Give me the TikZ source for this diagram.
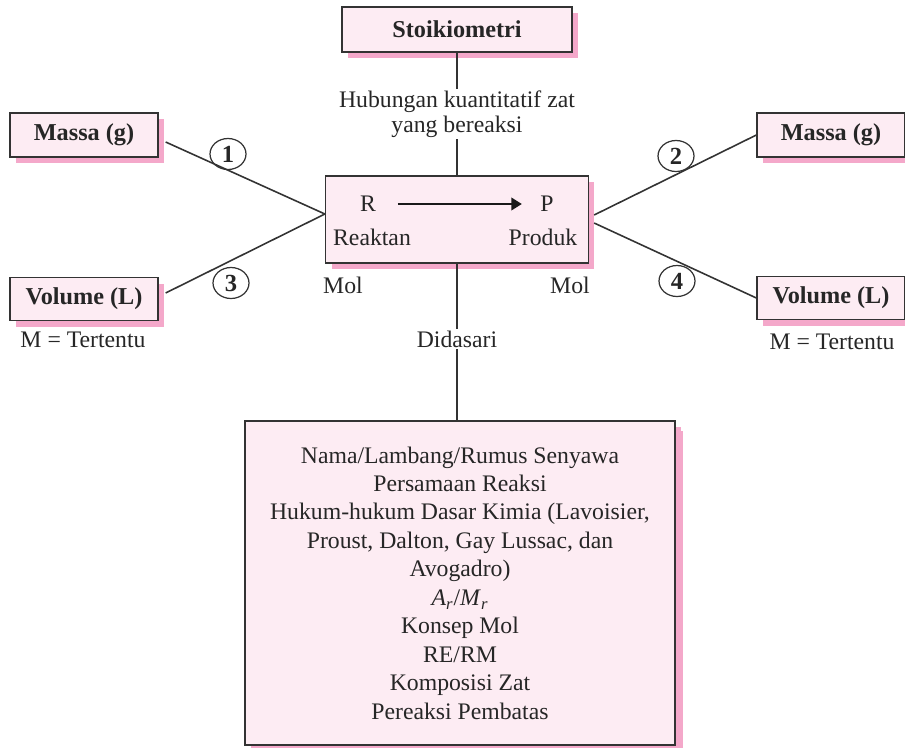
\documentclass[tikz,border=0pt]{standalone}
\usepackage{fontspec}
\setmainfont{Liberation Serif}
\usetikzlibrary{shadows,shapes.geometric,arrows.meta}
\definecolor{pinkmuda}{HTML}{FDECF3}
\definecolor{pinktua}{HTML}{F4A8CA}
\definecolor{garis}{HTML}{333333}

\begin{document}
\begin{tikzpicture}[x=0.02cm,y=-0.02cm,
  every node/.style={font=\fontsize{13.5}{16.2}\selectfont,text=black!85},
  kotak/.style={draw=garis,fill=pinkmuda,line width=0.75pt,
    drop shadow={fill=pinktua,opacity=1,shadow xshift=0.12cm,shadow yshift=-0.12cm}},
  judul/.style={font=\fontsize{13.8}{16.2}\selectfont\bfseries},
  nomor/.style={draw=garis,ellipse,inner sep=0pt,line width=0.7pt,minimum width=0.72cm,
    minimum height=0.62cm,font=\fontsize{14}{16}\selectfont\bfseries},
  hub/.style={draw=garis,line width=0.9pt}]
\useasboundingbox (0,0) rectangle (905,747);
% Judul dan hubungan ke kotak reaksi.
\node[kotak,judul,minimum width=4.6cm,minimum height=0.9cm] (stoik) at (457,29.5) {Stoikiometri};
\node[align=center,inner sep=1pt,font=\fontsize{13.5}{14.2}\selectfont] (hubungan) at (457,114) {Hubungan kuantitatif zat\\yang bereaksi};
\node[kotak,minimum width=5.26cm,minimum height=1.74cm] (reaksi) at (457,219.5) {};
\node (R) at (368,204) {R};
\node (P) at (547,204) {P};
\node (reaktan) at (372,237) {Reaktan};
\node (produk) at (543,237) {Produk};
\draw[-{Triangle[length=6pt,width=7pt]},line width=1.5pt,draw=black!90,
  shorten <=9pt,shorten >=7pt] (R) -- (P);
\draw[hub] (stoik.south) -- (hubungan.north);
\draw[hub] (hubungan.south) -- (reaksi.north);
% Kotak kiri.
\node[kotak,judul,minimum width=2.96cm,minimum height=0.88cm] (massa1) at (84,135) {Massa (g)};
\node[kotak,judul,minimum width=2.96cm,minimum height=0.86cm] (volume1) at (84,299) {Volume (L)};
\node (m1) at (83,340) {M = Tertentu};
% Kotak kanan.
\node[kotak,judul,minimum width=2.96cm,minimum height=0.88cm] (massa2) at (831,135) {Massa (g)};
\node[kotak,judul,minimum width=2.96cm,minimum height=0.86cm] (volume2) at (831,298) {Volume (L)};
\node (m2) at (832,342) {M = Tertentu};
% Garis penghubung dan nomor.
\draw[hub] ([xshift=0.14cm,yshift=-0.14cm]massa1.east) -- ([yshift=0.11cm]reaksi.west);
\draw[hub] ([xshift=0.14cm,yshift=0.12cm]volume1.east) -- ([yshift=0.11cm]reaksi.west);
\draw[hub] ([xshift=0.1cm,yshift=0.09cm]reaksi.east) -- (massa2.west);
\draw[hub] ([xshift=0.1cm,yshift=-0.07cm]reaksi.east) -- (volume2.west);
\node[nomor] (n1) at (228,154) {1};
\node[nomor] (n2) at (676,156) {2};
\node[nomor] (n3) at (231,283) {3};
\node[nomor] (n4) at (677,281) {4};
\node (mol1) at (343,285) {Mol};
\node (mol2) at (570,285) {Mol};
% Dasar-dasar stoikiometri.
\node[inner sep=1pt] (didasari) at (457,339) {Didasari};
\node[kotak,minimum width=8.6cm,minimum height=6.48cm,align=center,
  drop shadow={fill=pinktua,opacity=1,shadow xshift=0.16cm,shadow yshift=-0.2cm}] (dasar) at (460,583)
  {Nama/Lambang/Rumus Senyawa\\Persamaan Reaksi\\Hukum-hukum Dasar Kimia (Lavoisier,\\
   Proust, Dalton, Gay Lussac, dan\\Avogadro)\\
   \textit{A}\textsubscript{\textit{r}}/\textit{M}\textsubscript{\textit{r}}\\
   Konsep Mol\\RE/RM\\Komposisi Zat\\Pereaksi Pembatas};
\draw[hub] (reaksi.south) -- (didasari.north);
\draw[hub] (didasari.south) -- (didasari.south |- dasar.north);
\end{tikzpicture}
\end{document}
